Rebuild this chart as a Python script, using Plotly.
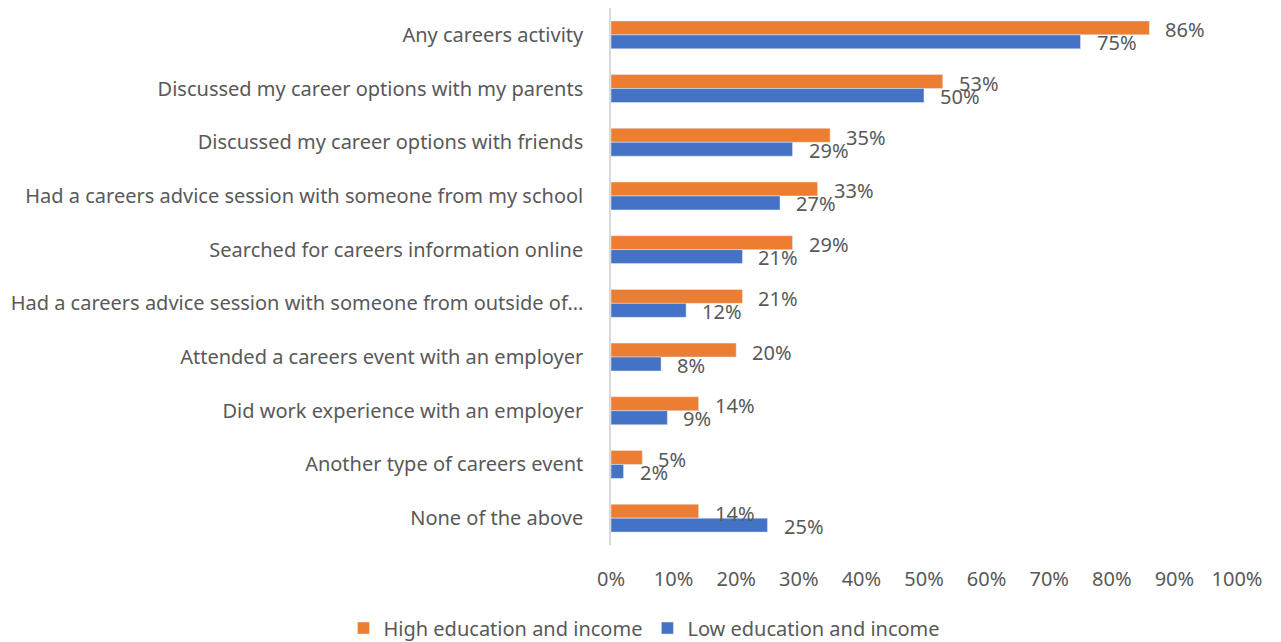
import plotly.graph_objects as go

# Data
categories = [
    "Any careers activity",
    "Discussed my career options with my parents",
    "Discussed my career options with friends",
    "Had a careers advice session with someone from my school",
    "Searched for careers information online",
    "Had a careers advice session with someone from outside of…",
    "Attended a careers event with an employer",
    "Did work experience with an employer",
    "Another type of careers event",
    "None of the above",
]
high_edu = [0.86, 0.53, 0.35, 0.33, 0.29, 0.21, 0.20, 0.14, 0.05, 0.14]
low_edu = [0.75, 0.50, 0.29, 0.27, 0.21, 0.12, 0.08, 0.09, 0.02, 0.25]
x_ticks = [0, 0.1, 0.2, 0.3, 0.4, 0.5, 0.6, 0.7, 0.8, 0.9, 1.0]

ORANGE = "#ED7D31"
BLUE = "#4472C4"
TXT = "#595959"
FONT = "Noto Sans"
FS = 20

fig = go.Figure()
fig.add_trace(go.Bar(y=categories, x=high_edu, orientation="h",
                     name="High education and income", marker_color=ORANGE))
fig.add_trace(go.Bar(y=categories, x=low_edu, orientation="h",
                     name="Low education and income", marker_color=BLUE))

# data labels, offset like the original
for vals, ys in [(high_edu, 5), (low_edu, -8)]:
    for cat, v in zip(categories, vals):
        fig.add_annotation(x=v, y=cat, text=f"{v:.0%}", showarrow=False,
                           xanchor="left", xshift=14, yshift=ys,
                           font=dict(size=FS, color=TXT, family=FONT))

# page body has an 8px margin, so the figure is sized to fit the window
fig.update_layout(
    width=1273, height=634,
    margin=dict(l=603, r=44, t=0, b=97, autoexpand=False),
    plot_bgcolor="white", paper_bgcolor="white",
    barmode="group", bargap=0.48, bargroupgap=0,
    font=dict(family=FONT, size=FS, color=TXT),
    showlegend=True,
    legend=dict(orientation="h", x=0.5, xref="container", xanchor="center",
                y=0.022, yref="container", yanchor="middle",
                font=dict(size=FS, color=TXT), itemwidth=30),
    xaxis=dict(range=[0, 1.0], tickvals=x_ticks, tickformat=".0%",
               showgrid=False, zeroline=False, showline=False, automargin=False,
               ticklabelstandoff=20, tickfont=dict(size=FS, color=TXT)),
    yaxis=dict(autorange="reversed", showgrid=False, showline=True,
               linecolor="#D9D9D9", linewidth=1.5, ticks="", automargin=False,
               ticklabelstandoff=22, tickfont=dict(size=FS, color=TXT)),
)

fig.write_html("out.html")
